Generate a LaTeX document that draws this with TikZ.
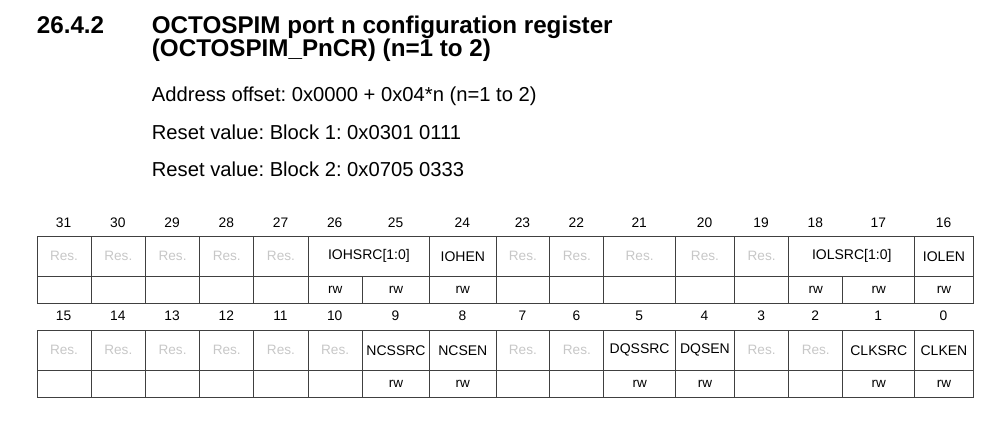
\documentclass[tikz,border=0pt]{standalone}
\usepackage{fontspec}
\setmainfont{Liberation Sans}
\frenchspacing
\begin{document}
\begin{tikzpicture}[
        x=1pt, y=-1pt,
        every node/.style={inner sep=0pt, font=\fontsize{13.8}{16}\selectfont},
        cell/.style={shape=rectangle, draw=black!75, line width=0.9pt, anchor=north west, minimum height=39.5, font=\fontsize{14}{16}\selectfont},
        rwcell/.style={cell, minimum height=27, font=\fontsize{13.5}{15}\selectfont},
        res/.style={text=black!22, font=\fontsize{13.6}{16}\selectfont},
        heading/.style={anchor=base west, font=\fontsize{24.2}{28}\selectfont\bfseries},
        body/.style={anchor=base west, font=\fontsize{20.2}{24}\selectfont}
    ]

    \useasboundingbox (0,0) rectangle (998,432);

    \node[heading] (secnum) at (36.7,33) {26.4.2};
    \node[heading] (title1) at (151.7,33) {OCTOSPIM port n configuration register};
    \node[heading] (title2) at (151.7,56.5) {(OCTOSPIM\_PnCR) (n=1 to 2)};
    \node[body] (offset) at (151.7,101.7) {Address offset: 0x0000 + 0x04*n (n=1 to 2)};
    \node[body] (reset1) at (151.7,139) {Reset value: Block 1: 0x0301 0111};
    \node[body] (reset2) at (151.7,176) {Reset value: Block 2: 0x0705 0333};

    \foreach \b/\x/\w/\ta/\tb in {
        31/36.5/54.2/{}/{}, 30/90.7/54.3/{}/{}, 29/145/54.2/{}/{}, 28/199.2/54.2/{}/{},
        27/253.4/54.2/{}/{}, 26/307.6/54.2/rw/{}, 25/361.8/67.5/rw/rw, 24/429.3/66.2/rw/rw,
        23/495.5/53.9/{}/{}, 22/549.4/54/{}/{}, 21/603.4/71.6/{}/rw, 20/675/59/{}/rw,
        19/734/54.3/{}/{}, 18/788.3/54/rw/{}, 17/842.3/72/rw/rw, 16/914.3/58.4/rw/rw} {
        \pgfmathtruncatemacro\lo{\b-16}
        \node (na\b) at (\x+\w/2,223) {\b};
        \node (nb\lo) at (\x+\w/2,315.7) {\lo};
        \node[rwcell, minimum width=\w] (wa\b) at (\x,275.5) {\ta};
        \node[rwcell, minimum width=\w] (wb\lo) at (\x,369.5) {\tb};
    }

    \foreach \b/\x/\w in {31/36.5/54.2, 30/90.7/54.3, 29/145/54.2, 28/199.2/54.2, 27/253.4/54.2,
        23/495.5/53.9, 22/549.4/54, 21/603.4/71.6, 20/675/59, 19/734/54.3}
        \node[cell, res, minimum width=\w] (fa\b) at (\x,236) {Res.};
    \foreach \b/\x/\w in {15/36.5/54.2, 14/90.7/54.3, 13/145/54.2, 12/199.2/54.2, 11/253.4/54.2,
        10/307.6/54.2, 7/495.5/53.9, 6/549.4/54, 3/734/54.3, 2/788.3/54}
        \node[cell, res, minimum width=\w] (fb\b) at (\x,330) {Res.};

    \node[cell, minimum width=121.7] (iohsrc) at (307.6,236) {IOHSRC[1:0]};
    \node[cell, minimum width=66.2] (iohen) at (429.3,236) {IOHEN};
    \node[cell, minimum width=126] (iolsrc) at (788.3,236) {IOLSRC[1:0]};
    \node[cell, minimum width=58.4] (iolen) at (914.3,236) {IOLEN};

    \node[cell, minimum width=67.5] (ncssrc) at (361.8,330) {NCSSRC};
    \node[cell, minimum width=66.2] (ncsen) at (429.3,330) {NCSEN};
    \node[cell, minimum width=71.6] (dqssrc) at (603.4,330) {DQSSRC};
    \node[cell, minimum width=59] (dqsen) at (675,330) {DQSEN};
    \node[cell, minimum width=72] (clksrc) at (842.3,330) {CLKSRC};
    \node[cell, minimum width=58.4] (clken) at (914.3,330) {CLKEN};

\end{tikzpicture}
\end{document}
